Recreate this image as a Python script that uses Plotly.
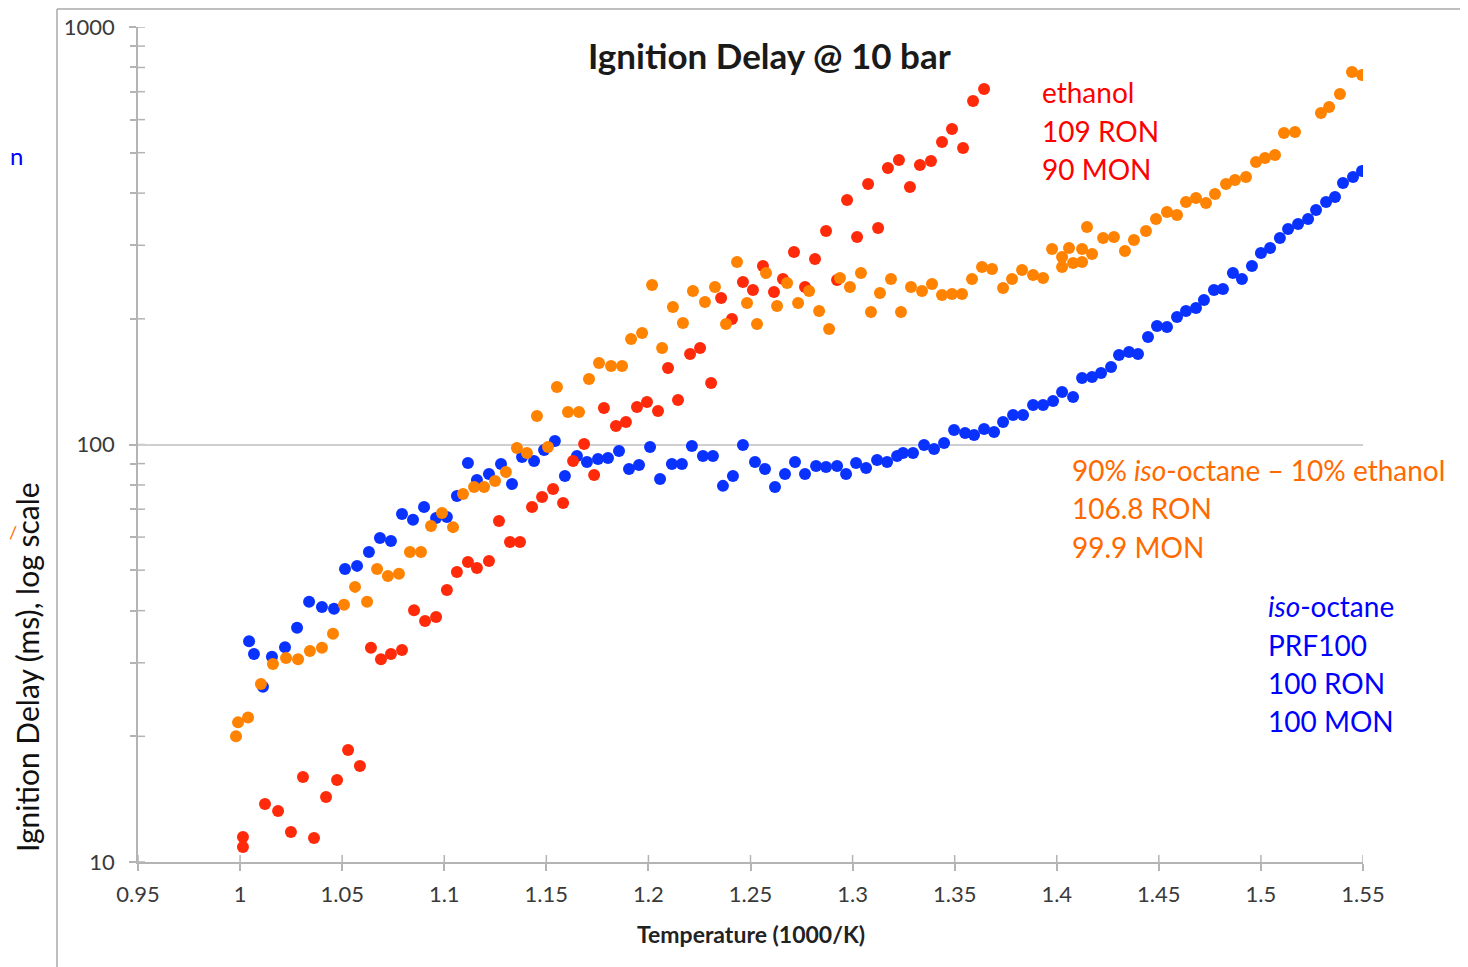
import plotly.graph_objects as go

# ---------------- data (T = 1000/K, tau = ignition delay, ms) ----------------
iso_T = [1.0044, 1.0068, 1.0112, 1.0156, 1.0220, 1.0279, 1.0338, 1.0401, 1.0460, 1.0514,
         1.0573, 1.0631, 1.0685, 1.0739, 1.0793, 1.0847, 1.0901, 1.0960, 1.1013, 1.1062,
         1.1116, 1.1160, 1.1219, 1.1278, 1.1332, 1.1381, 1.1440, 1.1489, 1.1542, 1.1591,
         1.1650, 1.1699, 1.1753, 1.1802, 1.1856, 1.1905, 1.1954, 1.2008, 1.2057, 1.2115,
         1.2164, 1.2213, 1.2267, 1.2316, 1.2365, 1.2414, 1.2463, 1.2522, 1.2571, 1.2620,
         1.2669, 1.2718, 1.2767, 1.2821, 1.2870, 1.2924, 1.2968, 1.3017, 1.3066, 1.3120,
         1.3169, 1.3218, 1.3247, 1.3296, 1.3350, 1.3399, 1.3448, 1.3497, 1.3551, 1.3595,
         1.3644, 1.3693, 1.3737, 1.3786, 1.3835, 1.3884, 1.3933, 1.3982, 1.4026, 1.4080,
         1.4124, 1.4173, 1.4217, 1.4266, 1.4305, 1.4354, 1.4398, 1.4447, 1.4491, 1.4540,
         1.4589, 1.4633, 1.4682, 1.4721, 1.4770, 1.4814, 1.4863, 1.4907, 1.4956, 1.5000,
         1.5045, 1.5093, 1.5133, 1.5182, 1.5231, 1.5270, 1.5319, 1.5363, 1.5402, 1.5451,
         1.5495]
iso_tau = [33.8, 31.5, 26.3, 31.0, 32.7, 36.4, 42.0, 40.8, 40.4, 50.3,
           51.2, 55.3, 59.7, 58.7, 68.2, 66.0, 70.8, 66.7, 67.0, 75.3,
           90.3, 82.2, 85.0, 89.8, 80.4, 93.3, 91.3, 97.0, 102.0, 84.1,
           93.9, 90.8, 92.3, 92.8, 96.5, 87.4, 89.3, 98.6, 82.7, 89.8,
           89.8, 99.2, 93.9, 93.9, 79.6, 84.1, 99.7, 90.8, 87.4, 79.1,
           85.0, 90.8, 85.0, 88.8, 88.3, 88.8, 85.0, 90.3, 87.8, 91.8,
           90.8, 93.9, 95.4, 95.4, 99.7, 97.5, 100.8, 108.3, 106.5, 105.4,
           108.9, 107.1, 113.2, 117.7, 117.7, 124.3, 124.3, 127.1, 133.6, 130.0,
           144.3, 145.1, 148.4, 153.3, 163.8, 166.5, 164.7, 180.9, 192.2, 191.1,
           202.0, 208.8, 212.3, 221.9, 234.5, 235.8, 257.6, 249.2, 267.7, 287.5,
           295.6, 312.2, 328.1, 337.4, 346.8, 364.5, 380.9, 391.6, 422.9, 437.2,
           451.9]

blend_T = [0.9980, 0.9990, 1.0039, 1.0102, 1.0161, 1.0225, 1.0284, 1.0342, 1.0401, 1.0455,
           1.0509, 1.0563, 1.0622, 1.0671, 1.0724, 1.0778, 1.0832, 1.0886, 1.0935, 1.0989,
           1.1043, 1.1092, 1.1146, 1.1195, 1.1249, 1.1302, 1.1356, 1.1405, 1.1454, 1.1508,
           1.1552, 1.1606, 1.1660, 1.1709, 1.1758, 1.1817, 1.1871, 1.1915, 1.1969, 1.2018,
           1.2067, 1.2120, 1.2169, 1.2218, 1.2277, 1.2326, 1.2380, 1.2434, 1.2483, 1.2532,
           1.2576, 1.2630, 1.2679, 1.2733, 1.2787, 1.2836, 1.2885, 1.2938, 1.2987, 1.3041,
           1.3090, 1.3134, 1.3188, 1.3237, 1.3286, 1.3340, 1.3389, 1.3438, 1.3487, 1.3536,
           1.3585, 1.3634, 1.3683, 1.3737, 1.3781, 1.3830, 1.3884, 1.3933, 1.3977, 1.4026,
           1.4026, 1.4060, 1.4080, 1.4124, 1.4124, 1.4148, 1.4173, 1.4227, 1.4280, 1.4334,
           1.4378, 1.4437, 1.4486, 1.4540, 1.4589, 1.4633, 1.4682, 1.4731, 1.4775, 1.4829,
           1.4873, 1.4927, 1.4976, 1.5020, 1.5069, 1.5113, 1.5167, 1.5294, 1.5334, 1.5387,
           1.5446, 1.5495]
blend_tau = [20.0, 21.6, 22.2, 26.7, 29.8, 30.8, 30.6, 32.0, 32.6, 35.2,
             41.3, 45.6, 42.0, 50.3, 48.4, 49.0, 55.3, 55.3, 63.8, 68.5,
             63.4, 76.1, 79.1, 79.1, 81.8, 85.9, 98.1, 95.4, 117.0, 98.6,
             137.3, 119.6, 119.6, 143.5, 156.8, 154.2, 154.2, 178.9, 184.9, 241.0,
             170.2, 213.5, 195.4, 233.2, 219.4, 238.4, 194.3, 273.6, 218.2, 194.3,
             257.6, 214.6, 243.7, 218.2, 233.2, 208.8, 189.0, 250.6, 238.4, 257.6,
             207.6, 230.7, 249.2, 207.6, 238.4, 233.2, 242.3, 228.1, 229.4, 229.4,
             249.2, 266.2, 263.3, 237.1, 249.2, 261.8, 254.7, 250.6, 294.0, 281.3,
             266.2, 295.6, 272.1, 294.0, 273.6, 331.9, 285.9, 312.2, 314.1, 290.7,
             308.8, 324.6, 346.8, 360.5, 354.5, 380.9, 389.5, 378.8, 398.1, 420.7,
             430.0, 437.2, 475.0, 485.6, 493.7, 557.2, 560.3, 622.3, 643.3, 691.0,
             780.2, 767.4]

eth_T = [1.0014, 1.0014, 1.0122, 1.0186, 1.0249, 1.0308, 1.0362, 1.0421, 1.0475, 1.0529,
         1.0587, 1.0641, 1.0690, 1.0739, 1.0793, 1.0852, 1.0906, 1.0960, 1.1013, 1.1062,
         1.1116, 1.1160, 1.1219, 1.1268, 1.1322, 1.1371, 1.1430, 1.1479, 1.1533, 1.1582,
         1.1631, 1.1685, 1.1734, 1.1782, 1.1841, 1.1890, 1.1944, 1.1993, 1.2047, 1.2096,
         1.2145, 1.2204, 1.2253, 1.2307, 1.2356, 1.2409, 1.2463, 1.2512, 1.2561, 1.2615,
         1.2659, 1.2713, 1.2767, 1.2816, 1.2870, 1.2924, 1.2973, 1.3022, 1.3076, 1.3125,
         1.3173, 1.3227, 1.3281, 1.3330, 1.3384, 1.3438, 1.3487, 1.3541, 1.3590, 1.3644]
eth_tau = [11.48, 10.86, 13.77, 13.25, 11.80, 15.98, 11.42, 14.31, 15.72, 18.55,
           16.98, 32.6, 30.6, 31.5, 32.2, 40.1, 37.8, 38.6, 44.8, 49.5,
           52.3, 50.6, 52.6, 65.6, 58.4, 58.4, 70.8, 74.9, 78.2, 72.4,
           91.3, 100.3, 84.5, 122.3, 110.7, 113.2, 123.0, 126.4, 120.3, 152.5,
           127.8, 164.7, 170.2, 140.4, 224.4, 199.8, 245.0, 234.5, 267.7, 231.9,
           249.2, 289.1, 238.4, 278.2, 324.6, 247.7, 385.1, 314.1, 420.7, 330.0,
           459.5, 480.3, 413.8, 467.1, 477.5, 530.3, 569.7, 513.1, 664.9, 710.3]

x_ticks = [0.95, 1.0, 1.05, 1.1, 1.15, 1.2, 1.25, 1.3, 1.35, 1.4, 1.45, 1.5, 1.55]
x_ticktext = ["0.95", "1", "1.05", "1.1", "1.15", "1.2", "1.25", "1.3", "1.35", "1.4", "1.45", "1.5", "1.55"]
y_ticks = [10, 100, 1000]
y_ticktext = ["10", "100", "1000"]
y_minor = [20, 30, 40, 50, 60, 70, 80, 90, 200, 300, 400, 500, 600, 700, 800, 900]

# ---------------- layout geometry ----------------
# the page body has an 8px margin, so the figure is drawn 8px in from the window corner
OFF = 8
W, H = 1468 - OFF, 967 - OFF
PX0, PX1, PY0, PY1 = 138, 1363, 27, 862          # plot area in window pixels
L, T = PX0 - OFF, PY0 - OFF
R, B = W - (PX1 - OFF), H - (PY1 - OFF)
PW, PH = PX1 - PX0, PY1 - PY0
FONT = "Lato"
AX = "#b4b4b4"


def px(xp):
    return (xp - PX0) / PW


def py(yp):
    return (PY1 - yp) / PH


fig = go.Figure()
fig.add_trace(go.Scatter(x=iso_T, y=iso_tau, mode="markers", name="iso-octane",
                         marker=dict(color="#0a32ff", size=12, line=dict(width=0))))
fig.add_trace(go.Scatter(x=eth_T, y=eth_tau, mode="markers", name="ethanol",
                         marker=dict(color="#ff2a0a", size=12, line=dict(width=0))))
fig.add_trace(go.Scatter(x=blend_T, y=blend_tau, mode="markers", name="blend",
                         marker=dict(color="#ff8200", size=12, line=dict(width=0))))

shapes = []
# inner halves of crossing ticks
for v in y_ticks + y_minor:
    shapes.append(dict(type="line", xref="paper", yref="y", x0=0, x1=7 / PW, y0=v, y1=v,
                       line=dict(color=AX, width=1.5), layer="below"))
for v in x_ticks:
    shapes.append(dict(type="line", xref="x", yref="paper", x0=v, x1=v, y0=0, y1=7 / PH,
                       line=dict(color=AX, width=1.5), layer="below"))
# outer frame (left and top edges)
shapes.append(dict(type="line", xref="paper", yref="paper", x0=px(57), x1=px(57), y0=py(9), y1=py(975),
                   line=dict(color="#a8a8a8", width=1.5)))
shapes.append(dict(type="line", xref="paper", yref="paper", x0=px(57), x1=px(1480), y0=py(9), y1=py(9),
                   line=dict(color="#a8a8a8", width=1.5)))

ann = []
ann.append(dict(text="<b>Ignition Delay @ 10 bar</b>", x=px(769), y=py(55), xref="paper", yref="paper",
                showarrow=False, xanchor="center", yanchor="middle",
                font=dict(family=FONT, size=35, color="#1a1a1a")))


def label_lines(lines, xl, ys, color):
    for t, yy in zip(lines, ys):
        ann.append(dict(text=t, x=px(xl), y=py(yy), xref="paper", yref="paper", showarrow=False,
                        xanchor="left", yanchor="middle", font=dict(family=FONT, size=28, color=color)))


label_lines(["ethanol", "109 RON", "90 MON"], 1040, [92, 131, 169], "#ff0000")
label_lines(["90% <i>iso</i>-octane \u2013 10% ethanol", "106.8 RON", "99.9 MON"],
            1070, [470, 508, 547], "#ff6a00")
label_lines(["<i>iso</i>-octane", "PRF100", "100 RON", "100 MON"], 1266, [606, 645, 683, 721], "#0000ff")

# fragments of neighbouring text at the left edge
ann.append(dict(text="n", x=px(8), y=py(155), xref="paper", yref="paper", showarrow=False,
                xanchor="left", yanchor="middle", font=dict(family=FONT, size=24, color="#0000ff")))
ann.append(dict(text="/", x=px(7), y=py(532), xref="paper", yref="paper", showarrow=False,
                xanchor="left", yanchor="middle", font=dict(family=FONT, size=18, color="#ff6a00")))

# axis titles
ann.append(dict(text="<b>Temperature (1000/K)</b>", x=px(751), y=py(934), xref="paper", yref="paper",
                showarrow=False, xanchor="center", yanchor="middle",
                font=dict(family=FONT, size=23, color="#222222")))
ann.append(dict(text="Ignition Delay (ms), log scale", x=px(27), y=py(667), xref="paper", yref="paper",
                showarrow=False, xanchor="center", yanchor="middle", textangle=-90,
                font=dict(family=FONT, size=30, color="#111111")))

fig.update_layout(
    width=W, height=H, margin=dict(l=L, r=R, t=T, b=B, autoexpand=False),
    paper_bgcolor="white", plot_bgcolor="white", showlegend=False,
    shapes=shapes, annotations=ann,
    xaxis=dict(range=[0.95, 1.55], tickmode="array", tickvals=x_ticks, ticktext=x_ticktext,
               showgrid=False, zeroline=False, showline=True, linecolor=AX, linewidth=1.5,
               ticks="outside", ticklen=7, tickwidth=1.5, tickcolor=AX, ticklabelstandoff=5,
               tickfont=dict(family=FONT, size=22, color="#3a3a3a")),
    yaxis=dict(type="log", range=[1, 3], tickmode="array", tickvals=y_ticks, ticktext=y_ticktext,
               showgrid=True, gridcolor="#cfcfcf", gridwidth=2, zeroline=False,
               showline=True, linecolor=AX, linewidth=1.5,
               ticks="outside", ticklen=7, tickwidth=1.5, tickcolor=AX, ticklabelstandoff=10,
               minor=dict(tickmode="array", tickvals=y_minor, ticks="outside", ticklen=6,
                          tickwidth=1.5, tickcolor=AX, showgrid=False),
               tickfont=dict(family=FONT, size=22, color="#3a3a3a")),
)

fig.write_html("out.html")
